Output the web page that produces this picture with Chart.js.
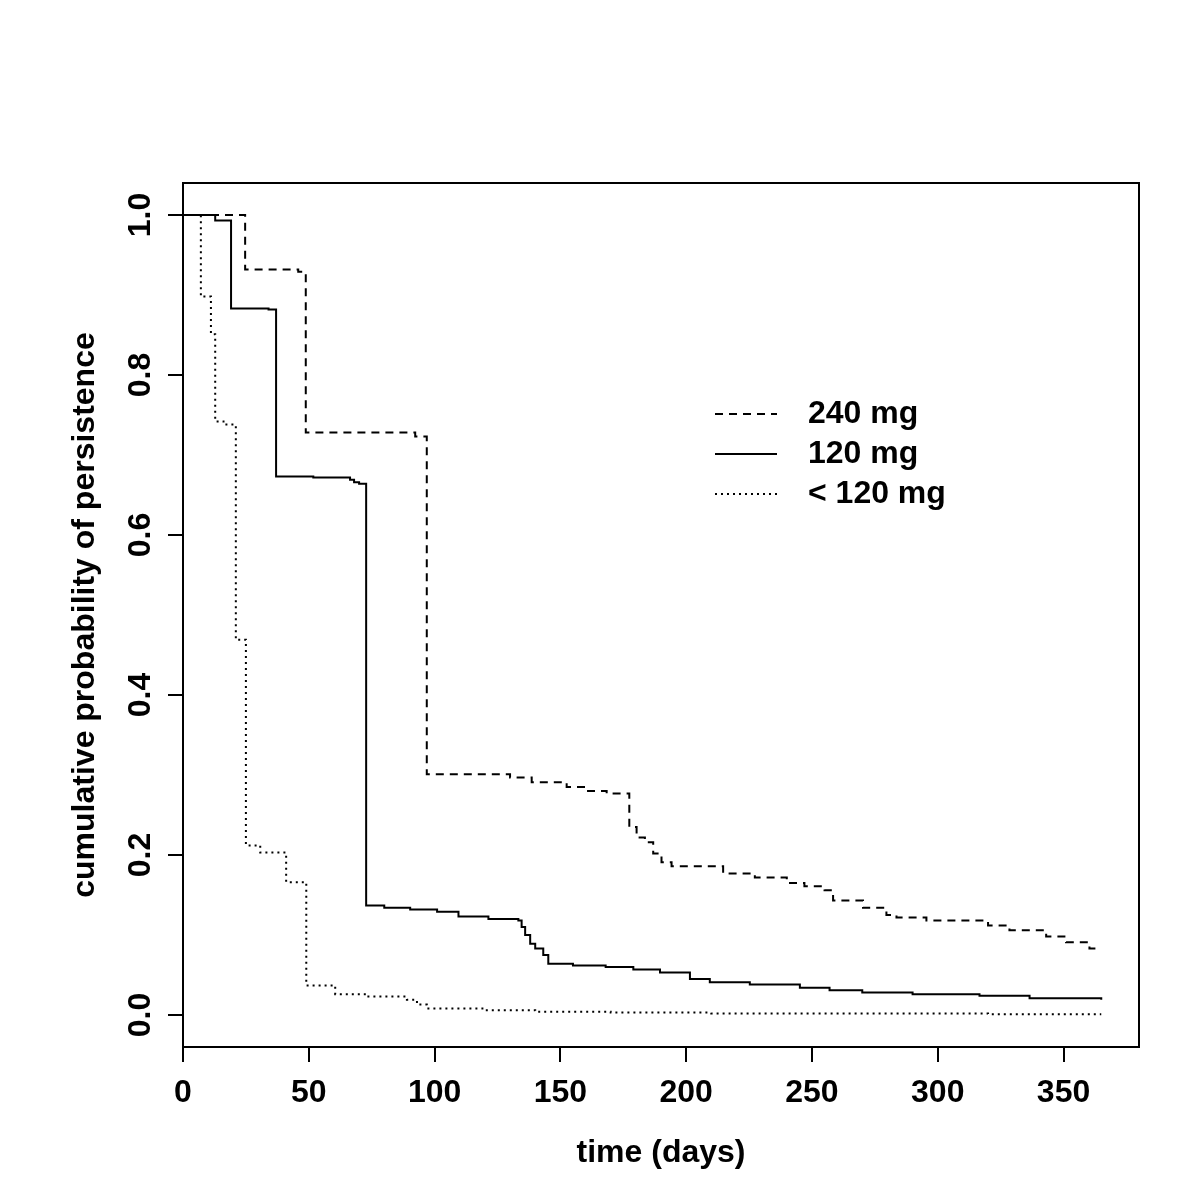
<!DOCTYPE html>
<html>
<head>
<meta charset="utf-8">
<script src="https://cdn.jsdelivr.net/npm/chart.js@4.4.1/dist/chart.umd.min.js"></script>
<style>
    html, body { margin: 0; padding: 0; background: #fff; }
    #grafico { display: block; }
</style>
</head>
<body>
<canvas id="grafico" width="1200" height="1200"></canvas>
<script>
// Curvas de persistencia (días, probabilidad acumulada)
const tiempos240 = [0, 24.7, 45.8, 48.8, 92.3, 96.9, 130, 138.6, 152.5, 161, 168.4, 177.4, 180.3, 183.6, 186.9, 190.2, 194.2, 214.7, 227.3, 240, 247, 255, 258.4, 270.3, 279.6, 283.6, 295.5, 320, 328.5, 343.1, 351, 360.3, 365];
const persistencia240 = [1.0, 0.932, 0.929, 0.728, 0.723, 0.301, 0.297, 0.291, 0.285, 0.280, 0.277, 0.235, 0.222, 0.216, 0.202, 0.191, 0.186, 0.177, 0.172, 0.165, 0.161, 0.156, 0.143, 0.134, 0.125, 0.122, 0.118, 0.112, 0.106, 0.098, 0.091, 0.083, 0.083];

const tiempos120 = [0, 12.8, 19.1, 34, 37, 51.8, 66.4, 68, 70, 72.8, 80, 90.3, 101, 109.5, 121.4, 133.3, 134.6, 136, 138, 140, 143.2, 145.2, 155, 168, 179, 189.6, 201.5, 209.4, 225.3, 245.2, 257, 270, 290, 316.6, 336.5, 365];
const persistencia120 = [1.0, 0.993, 0.883, 0.882, 0.673, 0.672, 0.669, 0.666, 0.664, 0.137, 0.134, 0.132, 0.129, 0.123, 0.120, 0.118, 0.110, 0.100, 0.089, 0.083, 0.075, 0.064, 0.062, 0.060, 0.057, 0.053, 0.045, 0.041, 0.038, 0.034, 0.031, 0.028, 0.026, 0.024, 0.021, 0.019];

const tiemposMenor = [0, 7.1, 11.1, 12.8, 16.1, 21, 25, 30.7, 41, 49, 60.5, 73, 89, 93, 96.9, 120, 140, 170, 210, 260, 320, 365];
const persistenciaMenor = [1.0, 0.898, 0.851, 0.742, 0.738, 0.469, 0.212, 0.203, 0.166, 0.037, 0.026, 0.023, 0.019, 0.013, 0.008, 0.006, 0.004, 0.003, 0.002, 0.002, 0.001, 0.001];

const etiquetasSeries = ['240 mg', '120 mg', '< 120 mg'];

const ticksX = [0, 50, 100, 150, 200, 250, 300, 350];
const ticksY = [0, 0.2, 0.4, 0.6, 0.8, 1.0];
const etiquetasY = ['0.0', '0.2', '0.4', '0.6', '0.8', '1.0'];

const familia = '"Liberation Sans", Arial, Helvetica, sans-serif';
const fuenteEje = { family: familia, size: 32, weight: 'bold' };

function puntos(t, s) {
    return t.map((x, i) => ({ x: x, y: s[i] }));
}

// Marco completo alrededor del área del gráfico (estilo R)
const marco = {
    id: 'marco',
    afterDraw(chart) {
        const { ctx, chartArea: a } = chart;
        ctx.save();
        ctx.strokeStyle = '#000';
        ctx.lineWidth = 2;
        ctx.strokeRect(a.left, a.top, a.right - a.left, a.bottom - a.top);
        ctx.restore();
    }
};

// Leyenda sin recuadro dentro del gráfico
const leyenda = {
    id: 'leyenda',
    afterDraw(chart) {
        const ctx = chart.ctx;
        chart.data.datasets.forEach((ds, i) => {
            const y = 414 + i * 40;
            ctx.save();
            ctx.strokeStyle = ds.borderColor;
            ctx.lineWidth = ds.borderWidth;
            ctx.setLineDash(ds.borderDash || []);
            ctx.beginPath();
            ctx.moveTo(715, y);
            ctx.lineTo(777, y);
            ctx.stroke();
            ctx.setLineDash([]);
            ctx.fillStyle = '#000';
            ctx.font = 'bold 32px ' + familia;
            ctx.textBaseline = 'middle';
            ctx.textAlign = 'left';
            ctx.fillText(ds.label, 808, y);
            ctx.restore();
        });
    }
};

const ctx = document.getElementById('grafico').getContext('2d');
new Chart(ctx, {
    type: 'line',
    data: {
        datasets: [
            {
                label: etiquetasSeries[0],
                data: puntos(tiempos240, persistencia240),
                borderColor: '#000',
                borderWidth: 2,
                borderDash: [8, 6],
                stepped: 'before',
                pointRadius: 0,
                fill: false,
            },
            {
                label: etiquetasSeries[1],
                data: puntos(tiempos120, persistencia120),
                borderColor: '#000',
                borderWidth: 2,
                stepped: 'before',
                pointRadius: 0,
                fill: false,
            },
            {
                label: etiquetasSeries[2],
                data: puntos(tiemposMenor, persistenciaMenor),
                borderColor: '#000',
                borderWidth: 2,
                borderDash: [2, 4],
                stepped: 'before',
                pointRadius: 0,
                fill: false,
            },
        ],
    },
    options: {
        responsive: false,
        animation: false,
        layout: { padding: { top: 183, right: 61, bottom: 0, left: 0 } },
        plugins: {
            legend: { display: false },
            tooltip: { enabled: false },
        },
        scales: {
            x: {
                type: 'linear',
                min: 0,
                max: 380,
                afterBuildTicks: (s) => { s.ticks = ticksX.map(v => ({ value: v })); },
                afterFit: (s) => { s.height = 153; },
                border: { display: false },
                grid: { drawOnChartArea: false, drawTicks: true, tickLength: 15, color: '#000', lineWidth: 2 },
                ticks: {
                    color: '#000',
                    font: fuenteEje,
                    padding: 12,
                    autoSkip: false,
                    maxRotation: 0,
                    callback: (v) => String(v),
                },
                title: {
                    display: true,
                    text: 'time (days)',
                    color: '#000',
                    font: fuenteEje,
                    padding: { top: 0, bottom: 28 },
                },
            },
            y: {
                type: 'linear',
                min: -0.04,
                max: 1.04,
                afterBuildTicks: (s) => { s.ticks = ticksY.map(v => ({ value: v })); },
                afterFit: (s) => { s.width = 183; },
                border: { display: false },
                grid: { drawOnChartArea: false, drawTicks: true, tickLength: 15, color: '#000', lineWidth: 2 },
                ticks: {
                    color: '#000',
                    font: fuenteEje,
                    padding: 5,
                    autoSkip: false,
                    minRotation: 90,
                    maxRotation: 90,
                    crossAlign: 'center',
                    callback: (v, i) => etiquetasY[i],
                },
                title: {
                    display: true,
                    text: 'cumulative probability of persistence',
                    color: '#000',
                    font: fuenteEje,
                    padding: { top: 66, bottom: 0 },
                },
            },
        },
    },
    plugins: [marco, leyenda],
});
</script>
</body>
</html>
